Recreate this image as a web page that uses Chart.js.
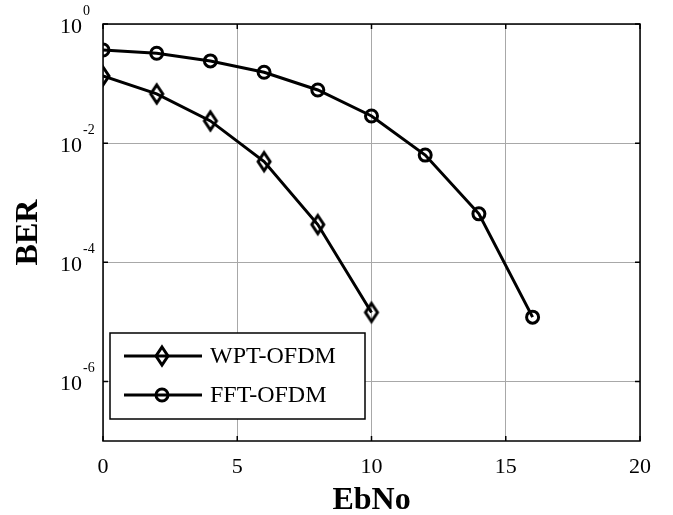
<!DOCTYPE html>
<html>
<head>
<meta charset="utf-8">
<script src="https://cdn.jsdelivr.net/npm/chart.js@4.4.0/dist/chart.umd.min.js"></script>
<style>
  html, body { margin: 0; padding: 0; background: #fff; }
  #wrap { width: 673px; height: 515px; }
</style>
</head>
<body>
<div id="wrap"><canvas id="berChart" width="673" height="515"></canvas></div>
<script>
// data
const ebno = [0, 2, 4, 6, 8, 10, 12, 14, 16];
const wptBer = [0.134, 0.067, 0.0236, 0.0049, 4.3e-4, 1.44e-5];
const fftBer = [0.366, 0.323, 0.24, 0.155, 0.078, 0.0286, 0.0063, 6.5e-4, 1.2e-5];
const seriesNames = ['WPT-OFDM', 'FFT-OFDM'];
const xTicks = [0, 5, 10, 15, 20];
const yTickExps = [0, -2, -4, -6];

const serif = '"Liberation Serif", "Times New Roman", serif';

// tall MATLAB-like diamond marker
function makeDiamond() {
    const c = document.createElement('canvas');
    c.width = 20;
    c.height = 26;
    const g = c.getContext('2d');
    g.strokeStyle = '#000';
    g.lineWidth = 3;
    g.beginPath();
    g.moveTo(10, 4);
    g.lineTo(16, 13);
    g.lineTo(10, 22);
    g.lineTo(4, 13);
    g.closePath();
    g.stroke();
    return c;
}
const diamond = makeDiamond();

function toPoints(ys) {
    return ys.map((v, i) => ({ x: ebno[i], y: v }));
}

// box, inward ticks, legend and axis texts
const matlabFrame = {
    id: 'matlabFrame',
    afterDatasetsDraw(chart) {
        const { ctx, chartArea: a, scales: { x, y } } = chart;
        ctx.save();
        ctx.strokeStyle = '#000';
        ctx.lineWidth = 1.5;
        ctx.strokeRect(a.left, a.top, a.right - a.left, a.bottom - a.top);

        ctx.beginPath();
        xTicks.forEach(v => {
            const px = x.getPixelForValue(v);
            ctx.moveTo(px, a.bottom); ctx.lineTo(px, a.bottom - 5);
            ctx.moveTo(px, a.top); ctx.lineTo(px, a.top + 5);
        });
        yTickExps.forEach(e => {
            const py = y.getPixelForValue(Math.pow(10, e));
            ctx.moveTo(a.left, py); ctx.lineTo(a.left + 5, py);
            ctx.moveTo(a.right, py); ctx.lineTo(a.right - 5, py);
        });
        ctx.stroke();

        // y tick labels with exponent
        ctx.fillStyle = '#000';
        yTickExps.forEach(e => {
            const py = y.getPixelForValue(Math.pow(10, e));
            ctx.font = '22px ' + serif;
            ctx.textAlign = 'right';
            ctx.textBaseline = 'alphabetic';
            ctx.fillText('10', a.left - 21, py + 9);
            ctx.font = '14px ' + serif;
            ctx.textAlign = 'left';
            ctx.fillText(String(e), a.left - 20, py - 9);
        });

        // legend
        const lx = 110, ly = 333, lw = 255, lh = 86;
        ctx.fillStyle = '#fff';
        ctx.fillRect(lx, ly, lw, lh);
        ctx.lineWidth = 1.5;
        ctx.strokeRect(lx, ly, lw, lh);
        const rows = [356, 395];
        chart.data.datasets.forEach((ds, i) => {
            const ry = rows[i];
            ctx.strokeStyle = '#000';
            ctx.lineWidth = 3;
            ctx.beginPath();
            ctx.moveTo(124, ry);
            ctx.lineTo(202, ry);
            ctx.stroke();
            if (ds.pointStyle === 'circle') {
                ctx.lineWidth = 3;
                ctx.beginPath();
                ctx.arc(162, ry, 6, 0, Math.PI * 2);
                ctx.stroke();
            } else {
                ctx.drawImage(diamond, 162 - 10, ry - 13);
            }
            ctx.fillStyle = '#000';
            ctx.font = '24px ' + serif;
            ctx.textAlign = 'left';
            ctx.textBaseline = 'middle';
            ctx.fillText(ds.label, 210, ry + 1);
        });

        // axis titles
        ctx.font = 'bold 32px ' + serif;
        ctx.textAlign = 'center';
        ctx.textBaseline = 'alphabetic';
        ctx.fillText('EbNo', (a.left + a.right) / 2, 509);
        ctx.save();
        ctx.translate(37, (a.top + a.bottom) / 2);
        ctx.rotate(-Math.PI / 2);
        ctx.fillText('BER', 0, 0);
        ctx.restore();

        ctx.restore();
    }
};

new Chart(document.getElementById('berChart'), {
    type: 'line',
    data: {
        datasets: [{
            label: seriesNames[0],
            data: toPoints(wptBer),
            borderColor: '#000',
            borderWidth: 3,
            pointStyle: diamond,
            pointRadius: 9,
            backgroundColor: 'rgba(0,0,0,0)',
            tension: 0
        }, {
            label: seriesNames[1],
            data: toPoints(fftBer),
            borderColor: '#000',
            borderWidth: 3,
            pointStyle: 'circle',
            pointRadius: 6,
            pointBorderWidth: 3,
            pointBackgroundColor: 'rgba(0,0,0,0)',
            backgroundColor: 'rgba(0,0,0,0)',
            tension: 0
        }]
    },
    options: {
        responsive: false,
        animation: false,
        devicePixelRatio: 1,
        layout: { padding: { top: 24, right: 33, left: 0, bottom: 0 } },
        plugins: {
            legend: { display: false },
            tooltip: { enabled: false }
        },
        scales: {
            x: {
                type: 'linear',
                min: 0,
                max: 20,
                afterBuildTicks: s => { s.ticks = xTicks.map(v => ({ value: v })); },
                afterFit: s => { s.height = 74; },
                ticks: {
                    color: '#000',
                    font: { family: serif, size: 22 },
                    padding: 13,
                    maxRotation: 0,
                    autoSkip: false
                },
                grid: { color: '#a8a8a8', lineWidth: 1, drawTicks: false },
                border: { display: false }
            },
            y: {
                type: 'logarithmic',
                min: 1e-7,
                max: 1,
                afterBuildTicks: s => { s.ticks = yTickExps.map(e => ({ value: Math.pow(10, e) })); },
                afterFit: s => { s.width = 103; },
                ticks: { display: false },
                grid: { color: '#a8a8a8', lineWidth: 1, drawTicks: false },
                border: { display: false }
            }
        }
    },
    plugins: [matlabFrame]
});
</script>
</body>
</html>
